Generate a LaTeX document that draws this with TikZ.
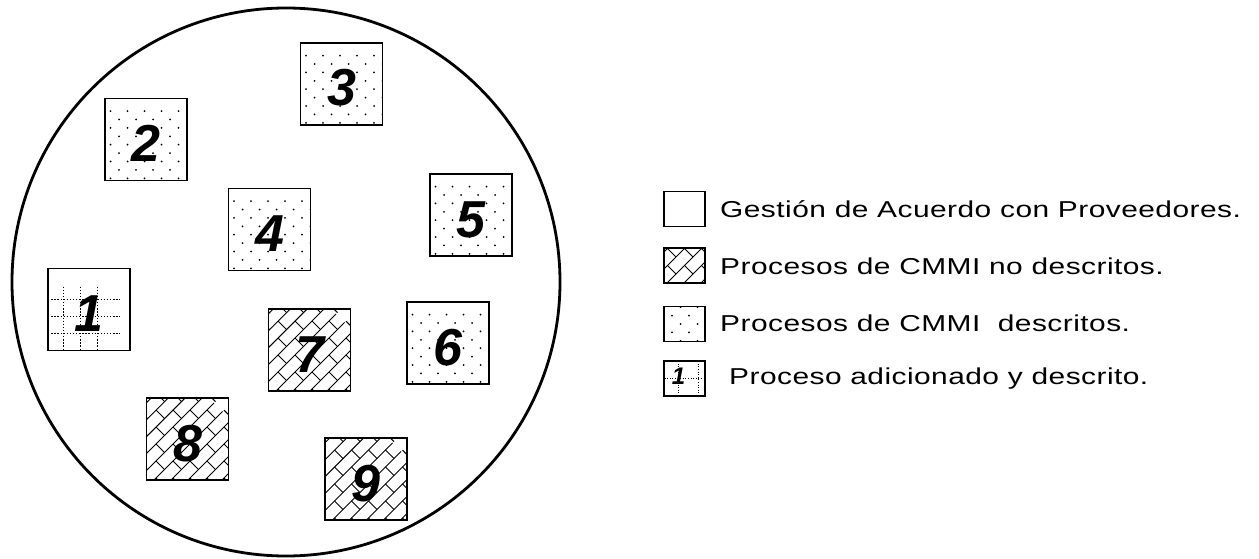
\documentclass[tikz,border=0pt]{standalone}
\usepackage{fontspec}
\usetikzlibrary{calc}
\setmainfont{Liberation Sans}
\newfontfamily\legendfont[FakeStretch=1.3, LetterSpace=2]{Liberation Sans}
\newfontfamily\digitfont{Liberation Sans}
\begin{document}
\begin{tikzpicture}[x=1pt,y=-1pt,
  proc/.style={draw, line width=1.6pt, minimum width=82pt, minimum height=82pt,
    inner sep=0pt, text height=44pt, text depth=0pt,
    font=\digitfont\bfseries\itshape\fontsize{52}{52}\selectfont},
  key/.style={draw, line width=1.4pt, minimum width=41pt, minimum height=35pt, inner sep=0pt},
  keytext/.style={anchor=west, inner sep=0pt, font=\legendfont\fontsize{23}{23}\selectfont},
  % staggered dot fill
  dots/.style={path picture={
    \begin{scope}[shift={(path picture bounding box.center)}]
      \foreach \j [evaluate=\j as \off using {mod(\j+10,2)*8.5}] in {-6,...,6}{
        \foreach \i in {-3,...,3}{
          \fill (\i*17+\off-4,\j*8.4) circle (1pt);
        }
      }
    \end{scope}}},
  % diagonal brick fill: long courses run "/" , joints run "\"
  bricks/.style={path picture={
    \begin{scope}[shift={(path picture bounding box.center)}, line width=0.9pt]
      \foreach \k [evaluate=\k as \b using {\k*12},
                   evaluate=\k as \sh using {mod(\k+20,2)*12}] in {-6,...,6}{
        \draw ({(\b-70)*0.7071},{(\b+70)*0.7071}) -- ({(\b+70)*0.7071},{(\b-70)*0.7071});
        \foreach \m [evaluate=\m as \a using {\m*24+\sh}] in {-4,...,4}{
          \draw ({(\a+\b)*0.7071},{(\b-\a)*0.7071}) -- ++(8.485,8.485);
        }
      }
    \end{scope}}},
  % dotted grid fill
  gridfill/.style={path picture={
    \begin{scope}[shift={(path picture bounding box.center)},
        line width=1.3pt, dash pattern=on 1.3pt off 1.8pt]
      \foreach \u in {-27,-11,6,23}{ \draw (\u,-45) -- (\u,45); }
      \foreach \v in {-32,-15,2,19,36}{ \draw (-45,\v) -- (45,\v); }
    \end{scope}}}
]
\useasboundingbox (0,0) rectangle (1259,559);
\fill[white] (0,0) rectangle (1259,559);

% the enclosing process area
\draw[line width=2.8pt] (286,282) circle [radius=274];

% process boxes
\node[proc, gridfill] (p1) at (89,309.5)  {1};
\node[proc, dots]     (p2) at (146,139.5) {2};
\node[proc, dots]     (p3) at (341.5,84)  {3};
\node[proc, dots]     (p4) at (269.5,229.5) {4};
\node[proc, dots]     (p5) at (471,215)   {5};
\node[proc, dots]     (p6) at (448,343)   {6};
\node[proc, bricks]   (p7) at (309.5,350) {7};
\node[proc, bricks]   (p8) at (187.5,439) {8};
\node[proc, bricks]   (p9) at (366,479)   {9};

% legend
\node[key]         (k1) at (684.5,209) {};
\node[key, bricks] (k2) at (684.5,265.5) {};
\node[key, dots]   (k3) at (684.5,324) {};
\node[key, path picture={
    \begin{scope}[shift={(path picture bounding box.center)},
        line width=1.1pt, dash pattern=on 1.1pt off 1.5pt]
      \draw (-20,0) -- (20,0);
      \draw (14,-20) -- (14,20);
      \draw (-6,-20) -- (-6,20);
    \end{scope}
    \node[font=\digitfont\bfseries\itshape\fontsize{24}{24}\selectfont]
      at ($(path picture bounding box.center)+(-6,-2)$) {1};}]
  (k4) at (684.5,378.5) {};

\node[keytext] (t1) at (720,209)   {Gestión de Acuerdo con Proveedores.};
\node[keytext] (t2) at (720,266)   {Procesos de CMMI no descritos.};
\node[keytext] (t3) at (720,323)   {Procesos de CMMI\ \ descritos.};
\node[keytext] (t4) at (729,378.5) {Proceso adicionado y descrito.};
\end{tikzpicture}
\end{document}
